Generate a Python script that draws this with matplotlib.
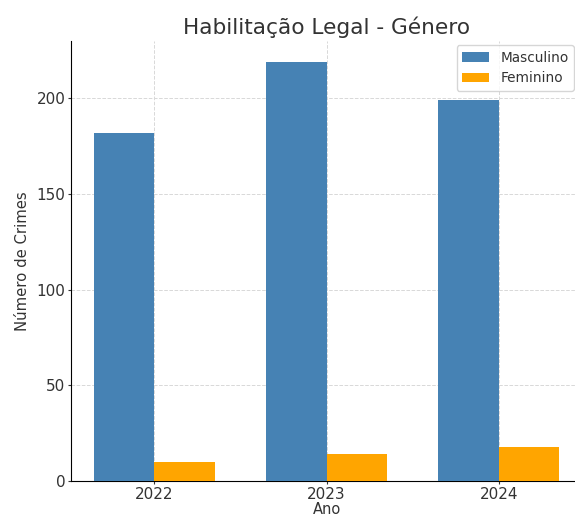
import numpy as np
from matplotlib import pyplot as plt

anos = ["2022", "2023", "2024"]
masculino = [182, 219, 199]
feminino = [10, 14, 18]

plt.rcParams['text.color'] = '#333333'
plt.rcParams['axes.labelcolor'] = '#333333'
plt.rcParams['xtick.color'] = '#333333'
plt.rcParams['ytick.color'] = '#333333'

fig = plt.figure(figsize=(5.75, 5.18), dpi=100)
ax = fig.add_axes([0.1235, 0.0715, 0.889, 0.849])

x = np.arange(len(anos))
width = 0.35
ax.bar(x - width / 2, masculino, width, label="Masculino", color="steelblue", zorder=3)
ax.bar(x + width / 2, feminino, width, label="Feminino", color="orange", zorder=3)

ax.set_xticks(x)
ax.set_xticklabels(anos)
ax.tick_params(axis='both', labelsize=11, length=2.5, pad=1.5)
ax.set_xlabel("Ano", fontsize=10.5, labelpad=0.5)
ax.set_ylabel("Número de Crimes", fontsize=10.7, labelpad=5)
ax.set_title("Habilitação Legal - Género", fontsize=15.6, pad=5)
ax.grid(True, linestyle='--', color='#d8d8d8', linewidth=0.7, zorder=0)
ax.spines['top'].set_visible(False)
ax.spines['right'].set_visible(False)
ax.legend(fontsize=9.8, loc='upper right', bbox_to_anchor=(0.998, 0.913),
          bbox_transform=fig.transFigure, borderaxespad=0)

plt.savefig("out.png")
